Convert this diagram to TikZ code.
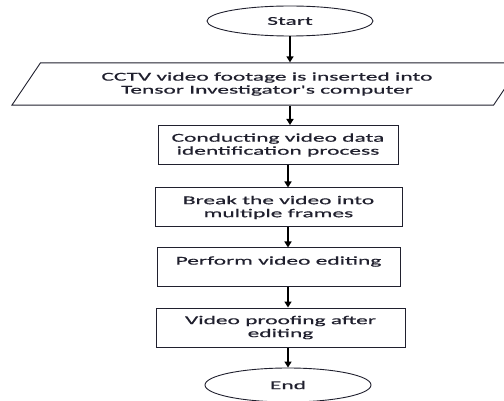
\documentclass[tikz,border=0pt]{standalone}
\usepackage{fontspec}
\usetikzlibrary{arrows.meta,shapes.geometric}
\newfontfamily\flowfont{Carlito}[FakeStretch=1.95, FakeBold=0.6]
\definecolor{fdark}{HTML}{20202E}

\begin{document}
\begin{tikzpicture}[x=1pt,y=-1pt,
  every node/.style={font=\flowfont\fontsize{12}{13}\selectfont, text=fdark, align=center},
  terminal/.style={draw=fdark, line width=0.9pt, ellipse, minimum width=166pt, minimum height=30pt, inner sep=0pt},
  iobox/.style={draw=fdark, line width=0.9pt, trapezium, trapezium left angle=56, trapezium right angle=124,
    inner xsep=61pt, inner ysep=9.5pt},
  procbox/.style={draw=fdark, line width=1pt, rectangle, minimum height=39pt, inner sep=0pt},
  flowarrow/.style={-{Triangle[length=6pt,width=7pt]}, line width=1.6pt, black}]

  \useasboundingbox (0,0) rectangle (504,401);

  % Start and input
  \node[terminal] (start) at (290,21) {Start};
  \node[iobox] (io) at (267,84) {CCTV video footage is inserted into\\Tensor Investigator's computer};

  % Processing steps
  \node[procbox, minimum width=240pt] (ident) at (278,145) {Conducting video data\\identification process};
  \node[procbox, minimum width=247pt] (frames) at (278.5,207.5) {Break the video into\\multiple frames};
  \node[procbox, minimum width=243pt, minimum height=38pt] (edit) at (278.5,267) {Perform video editing\\\mbox{}};
  \node[procbox, minimum width=249pt] (proof) at (280.5,327.5) {Video proofing after\\editing};

  % End
  \node[terminal, minimum height=34pt] (end) at (288,385) {End};

  % Arrows
  \draw[flowarrow] (start.south) -- (start.south |- io.north);
  \draw[flowarrow] (io.south -| start.south) -- (start.south |- ident.north);
  \draw[flowarrow] (ident.south -| end.north) -- (end.north |- frames.north);
  \draw[flowarrow] (frames.south -| end.north) -- (end.north |- edit.north);
  \draw[flowarrow] (edit.south -| end.north) -- (end.north |- proof.north);
  \draw[flowarrow] (proof.south -| end.north) -- (end.north);
\end{tikzpicture}
\end{document}
